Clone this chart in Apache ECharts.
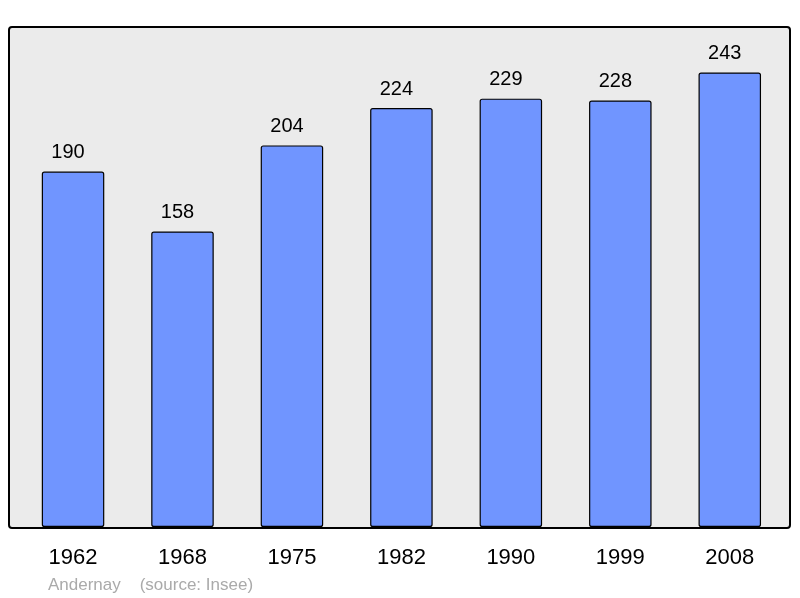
<!DOCTYPE html>
<html><head><meta charset="utf-8">
<script src="https://cdn.jsdelivr.net/npm/echarts@6/dist/echarts.min.js"></script>
<style>html,body{margin:0;padding:0;background:#fff}#c{width:800px;height:598px}</style>
</head><body><div id="c"></div>
<script>
const years = ['1962','1968','1975','1982','1990','1999','2008'];
const population = [190,158,204,224,229,228,243];
const footer = 'Andernay    (source: Insee)';

const chart = echarts.init(document.getElementById('c'), null, {renderer:'canvas'});
chart.setOption({
  animation:false,
  backgroundColor:'#ffffff',
  textStyle:{fontFamily:'Liberation Sans'},
  graphic:[
    {type:'rect', z:-10, shape:{x:9,y:27,width:781,height:501,r:3},
     style:{fill:'#ebebeb', stroke:'#000', lineWidth:2}},
    {type:'text', left:48, top:577, style:{text:footer, fill:'#aaaaaa', font:'17px "Liberation Sans"'}}
  ],
  grid:{left:18.3, right:15.5, top:27, bottom:71},
  xAxis:{type:'category', data:years, boundaryGap:true,
    axisLine:{show:false}, axisTick:{show:false},
    axisLabel:{color:'#000', fontSize:22, margin:20, fontFamily:'Liberation Sans'}},
  yAxis:{type:'value', min:0, max:267.3, show:false, splitLine:{show:false}},
  series:[{type:'bar', data:population, barWidth:62.5,
    itemStyle:{color:'#7095ff', borderColor:'#000', borderWidth:1.2, borderRadius:2},
    label:{show:true, position:'top', distance:9, offset:[-5,0], color:'#000', fontSize:20, fontFamily:'Liberation Sans'}}]
});
</script></body></html>
